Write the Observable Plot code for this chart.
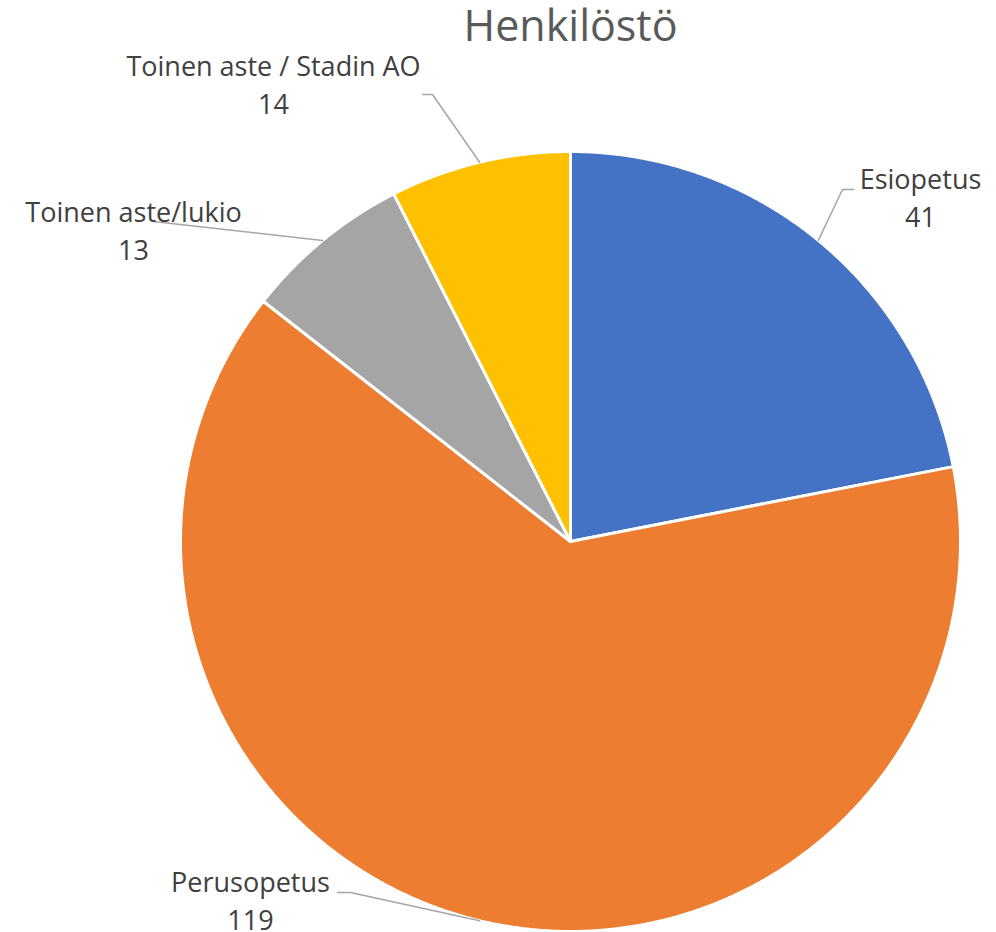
<!DOCTYPE html>
<html>
<head>
<meta charset="utf-8">
<script src="https://cdn.jsdelivr.net/npm/d3@7"></script>
<script src="https://cdn.jsdelivr.net/npm/@observablehq/plot@0.6"></script>
<style>
  html, body { margin: 0; padding: 0; background: #fff; }
  #chart svg { display: block; }
</style>
</head>
<body>
<div id="chart"></div>
<script>
// ---- data ----
const title = "Henkilöstö";
const categories = ["Esiopetus", "Perusopetus", "Toinen aste/lukio", "Toinen aste / Stadin AO"];
const values = [41, 119, 13, 14];
const colors = ["#4472C4", "#ED7D31", "#A5A5A5", "#FFC000"];

// ---- layout ----
const W = 996, H = 932;
const cx = 570, cy = 541, R = 390;
// label placement (text center x, first baseline y) and leader elbow points
const labelLayout = [
  {tx: 920, ty: 188, elbow: [[842, 189], [853, 189]]},
  {tx: 250, ty: 891, elbow: [[350, 892], [337, 892]]},
  {tx: 133, ty: 221, elbow: [[153, 221]]},
  {tx: 273, ty: 75,  elbow: [[432, 94], [422, 94]]}
];

const pie = d3.pie().sort(null).value(d => d)(values);
const pt = (a, r = R) => [cx + r * Math.sin(a), cy - r * Math.cos(a)];

const slicePts = [];
pie.forEach((p, i) => {
  const cat = categories[i];
  slicePts.push({cat, x: cx, y: cy});
  const n = Math.max(2, Math.ceil((p.endAngle - p.startAngle) / (Math.PI / 720)));
  for (let k = 0; k <= n; k++) {
    const a = p.startAngle + (p.endAngle - p.startAngle) * k / n;
    const [x, y] = pt(a);
    slicePts.push({cat, x, y});
  }
  slicePts.push({cat, x: cx, y: cy});
});

const leaderPts = [];
pie.forEach((p, i) => {
  const mid = (p.startAngle + p.endAngle) / 2;
  const [x, y] = pt(mid);
  leaderPts.push({cat: categories[i], x, y});
  labelLayout[i].elbow.forEach(([ex, ey]) => leaderPts.push({cat: categories[i], x: ex, y: ey}));
});

const nameLabels = categories.map((c, i) => ({x: labelLayout[i].tx, y: labelLayout[i].ty, t: c}));
const valueLabels = values.map((v, i) => ({x: labelLayout[i].tx, y: labelLayout[i].ty + 38, t: String(v)}));

const chart = Plot.plot({
  width: W,
  height: H,
  margin: 0,
  style: {fontFamily: "'Open Sans', sans-serif", background: "#fff"},
  x: {domain: [0, W], range: [0, W], axis: null},
  y: {domain: [0, H], range: [0, H], axis: null},
  color: {domain: categories, range: colors},
  marks: [
    Plot.line(slicePts, {x: "x", y: "y", z: "cat", fill: "cat", stroke: "#fff", strokeWidth: 3, strokeLinejoin: "round", curve: "linear"}),
    Plot.line(leaderPts, {x: "x", y: "y", z: "cat", stroke: "#A6A6A6", strokeWidth: 1.5, curve: "linear"}),
    Plot.text(nameLabels, {x: "x", y: "y", text: "t", fill: "#404040", fontSize: 27, textAnchor: "middle", lineAnchor: "bottom", dy: 0}),
    Plot.text(valueLabels, {x: "x", y: "y", text: "t", fill: "#404040", fontSize: 27, textAnchor: "middle", lineAnchor: "bottom", dy: 0}),
    Plot.text([title], {x: cx, y: 40, text: d => d, fill: "#595959", fontSize: 43, textAnchor: "middle", lineAnchor: "bottom", dy: 0})
  ]
});
document.getElementById("chart").appendChild(chart);
</script>
</body>
</html>
